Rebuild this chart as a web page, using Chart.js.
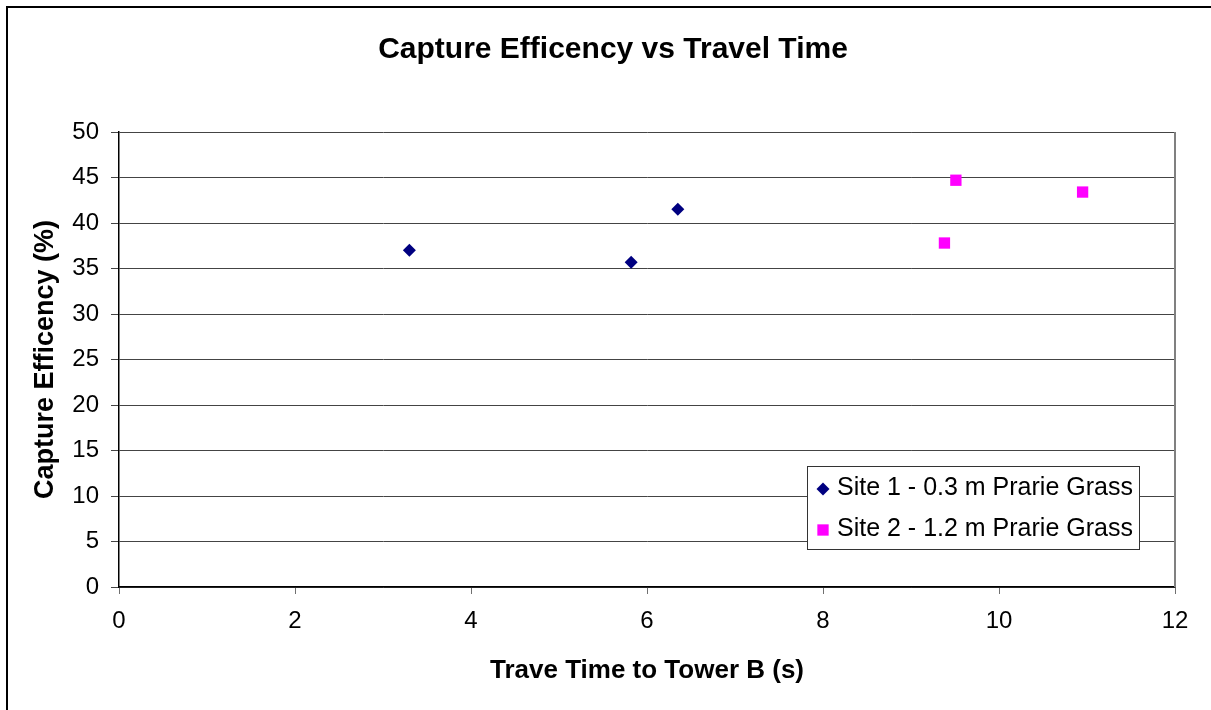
<!DOCTYPE html>
<html>
<head>
<meta charset="utf-8">
<script src="https://cdn.jsdelivr.net/npm/chart.js@4/dist/chart.umd.min.js"></script>
<style>
    html, body { margin: 0; padding: 0; background: #fff; overflow: hidden; }
    #wrap { width: 1211px; height: 710px; position: relative; }
</style>
</head>
<body>
<div id="wrap"><canvas id="captureChart"></canvas></div>
<script>
// chart texts
const chartTitle = 'Capture Efficency vs Travel Time';
const xAxisTitle = 'Trave Time to Tower B (s)';
const yAxisTitle = 'Capture Efficency (%)';
const seriesNames = ['Site 1 - 0.3 m Prarie Grass', 'Site 2 - 1.2 m Prarie Grass'];

// values
const site1Time = [3.3, 5.82, 6.35];
const site1Eff = [37.0, 35.7, 41.5];
const site2Time = [9.38, 9.51, 10.95];
const site2Eff = [37.8, 44.7, 43.4];

const FONT = '"Liberation Sans", Arial, sans-serif';

// outer frame + title
const framePlugin = {
    id: 'frame',
    beforeDraw(chart) {
        const ctx = chart.ctx;
        ctx.save();
        ctx.fillStyle = '#fff';
        ctx.fillRect(0, 0, chart.width, chart.height);
        ctx.strokeStyle = '#000';
        ctx.lineWidth = 2;
        ctx.beginPath();
        ctx.moveTo(7, chart.height + 2);
        ctx.lineTo(7, 7);
        ctx.lineTo(chart.width + 2, 7);
        ctx.stroke();

        ctx.fillStyle = '#000';
        ctx.font = 'bold 30px ' + FONT;
        ctx.textAlign = 'center';
        ctx.textBaseline = 'middle';
        ctx.fillText(chartTitle, 613, 50);
        ctx.restore();
    }
};

// right border of the plot and the boxed legend inside it
const legendBoxPlugin = {
    id: 'legendBox',
    afterDraw(chart) {
        const ctx = chart.ctx;
        const area = chart.chartArea;
        ctx.save();
        ctx.strokeStyle = '#808080';
        ctx.lineWidth = 2;
        ctx.beginPath();
        ctx.moveTo(area.right, area.top);
        ctx.lineTo(area.right, area.bottom);
        ctx.stroke();

        const w = 332, h = 83;
        const x0 = area.right - 36 - w;
        const y0 = area.bottom - 38 - h;
        ctx.fillStyle = '#fff';
        ctx.fillRect(x0, y0, w, h);
        ctx.strokeStyle = '#333';
        ctx.lineWidth = 1;
        ctx.strokeRect(x0 + 0.5, y0 + 0.5, w, h);

        ctx.font = '25px ' + FONT;
        ctx.textAlign = 'left';
        ctx.textBaseline = 'middle';
        chart.data.datasets.forEach((ds, i) => {
            const cy = y0 + 22 + i * 41;
            ctx.fillStyle = ds.backgroundColor;
            Chart.helpers.drawPoint(ctx, {
                pointStyle: ds.pointStyle,
                radius: ds.pointRadius,
                borderWidth: 0,
                rotation: 0
            }, x0 + 16, cy + 1);
            ctx.fillStyle = '#000';
            ctx.fillText(ds.label, x0 + 30, cy);
        });
        ctx.restore();
    }
};

const ctx = document.getElementById('captureChart').getContext('2d');

const captureChart = new Chart(ctx, {
    type: 'scatter',
    data: {
        datasets: [
            {
                label: seriesNames[0],
                data: site1Time.map((t, i) => ({ x: t, y: site1Eff[i] })),
                backgroundColor: '#000080',
                borderColor: '#000080',
                borderWidth: 0,
                pointStyle: 'rectRot',
                pointRadius: 6.5
            },
            {
                label: seriesNames[1],
                data: site2Time.map((t, i) => ({ x: t, y: site2Eff[i] })),
                backgroundColor: '#ff00ff',
                borderColor: '#ff00ff',
                borderWidth: 0,
                pointStyle: 'rect',
                pointRadius: 8
            }
        ]
    },
    options: {
        responsive: true,
        maintainAspectRatio: false,
        animation: false,
        layout: { padding: { top: 132, right: 36, left: 0, bottom: 0 } },
        plugins: {
            legend: { display: false },
            title: { display: false },
            tooltip: { enabled: false }
        },
        scales: {
            x: {
                type: 'linear',
                min: 0,
                max: 12,
                afterFit(scale) { scale.height = 123; },
                ticks: {
                    stepSize: 2,
                    color: '#000',
                    padding: 13,
                    font: { family: FONT, size: 24 }
                },
                grid: {
                    drawOnChartArea: false,
                    drawTicks: true,
                    tickLength: 7,
                    color: '#707070'
                },
                border: { color: '#000', width: 1.5 },
                title: {
                    display: true,
                    text: xAxisTitle,
                    color: '#000',
                    font: { family: FONT, size: 26, weight: 'bold' },
                    padding: { top: 0, bottom: 24 }
                }
            },
            y: {
                min: 0,
                max: 50,
                afterFit(scale) { scale.width = 119; },
                ticks: {
                    stepSize: 5,
                    color: '#000',
                    padding: 12,
                    font: { family: FONT, size: 24 }
                },
                grid: {
                    color: '#444',
                    lineWidth: 1,
                    drawTicks: true,
                    tickLength: 8
                },
                border: { color: '#000', width: 1.5 },
                title: {
                    display: true,
                    text: yAxisTitle,
                    color: '#000',
                    font: { family: FONT, size: 27, weight: 'bold' },
                    padding: { top: 29, bottom: 0 }
                }
            }
        }
    },
    plugins: [framePlugin, legendBoxPlugin]
});
</script>
</body>
</html>
